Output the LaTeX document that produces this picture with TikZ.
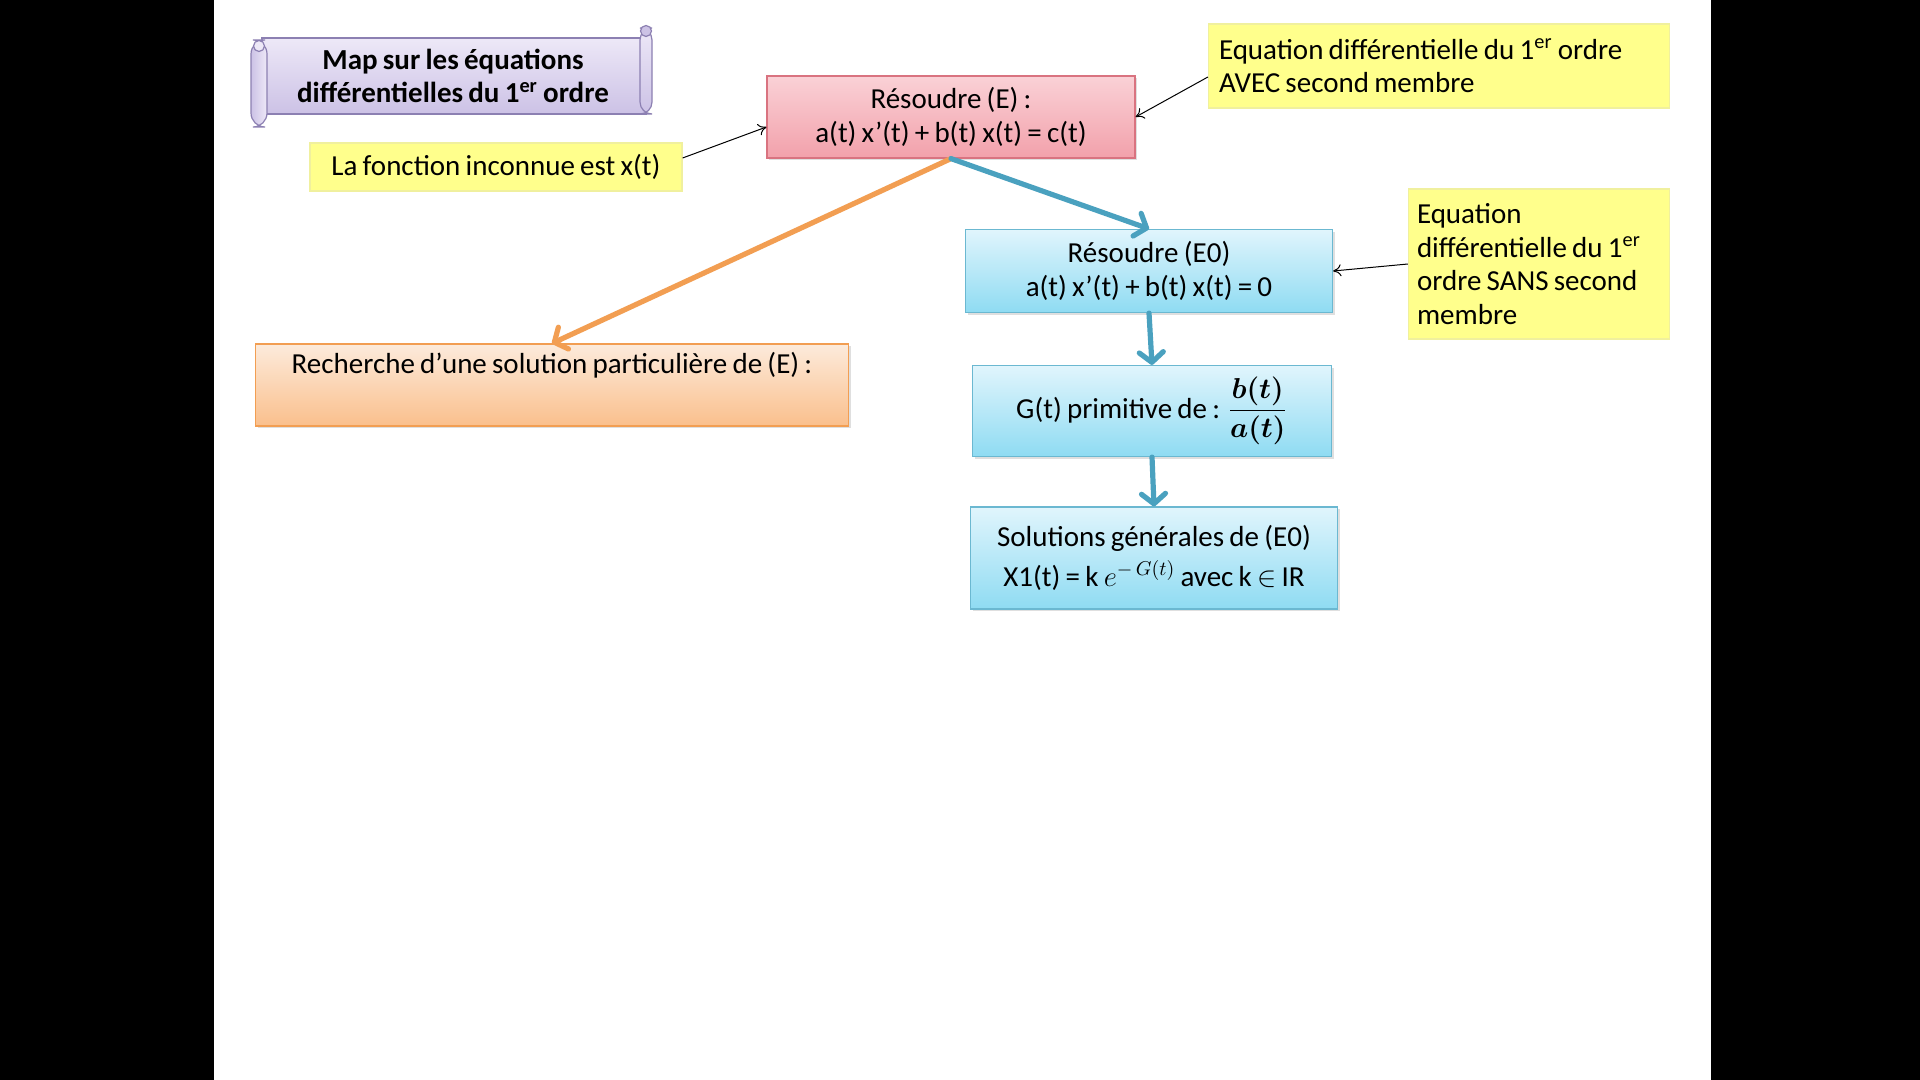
\documentclass[tikz,border=0pt]{standalone}
\usepackage{fontspec}
\usepackage{amsmath}
\usepackage{tikz}
\setmainfont{Carlito}[WordSpace=0.8]
\usetikzlibrary{arrows.meta}
\usetikzlibrary{positioning}
\usetikzlibrary{shadows}
\definecolor{mred}{rgb}{0.85, 0.45, 0.50}
\definecolor{mredtop}{rgb}{0.98, 0.82, 0.84}
\definecolor{mredbot}{rgb}{0.95, 0.63, 0.67}
\definecolor{mcyan}{rgb}{0.42, 0.72, 0.82}
\definecolor{mcyantop}{rgb}{0.88, 0.96, 0.99}
\definecolor{mcyanbot}{rgb}{0.56, 0.86, 0.95}
\definecolor{morange}{rgb}{0.95, 0.62, 0.32}
\definecolor{morangetop}{rgb}{0.99, 0.92, 0.86}
\definecolor{morangebot}{rgb}{0.98, 0.75, 0.55}
\definecolor{myellow}{rgb}{1.0, 1.0, 0.55}
\definecolor{myellowline}{rgb}{0.94, 0.94, 0.62}
\definecolor{mlav}{rgb}{0.55, 0.50, 0.70}
\definecolor{mlavtop}{rgb}{0.93, 0.91, 0.97}
\definecolor{mlavbot}{rgb}{0.80, 0.76, 0.90}
\definecolor{marrow}{rgb}{0.29, 0.63, 0.75}
\tikzset{
  box/.style = {draw, line width=0.6pt, align=center, inner sep=2pt,
    font=\fontsize{14.5}{16.8}\selectfont,
    drop shadow={shadow xshift=1.2pt, shadow yshift=-1.2pt, opacity=0.25}},
  redbox/.style = {box, draw=mred, top color=mredtop, bottom color=mredbot},
  cyanbox/.style = {box, draw=mcyan, top color=mcyantop, bottom color=mcyanbot},
  orangebox/.style = {box, draw=morange, top color=morangetop, bottom color=morangebot},
  note/.style = {draw=myellowline, fill=myellow, line width=0.6pt, inner sep=2pt,
    font=\fontsize{14.5}{16.8}\selectfont},
  thick arrow/.style = {line width=2.6pt, line cap=round,
    -{Straight Barb[length=5pt, width=12pt, round]}},
  thin arrow/.style = {black, line width=0.5pt, -{To[length=4pt, width=6pt]}}
}

\begin{document}
\begin{tikzpicture}[x=0.5pt, y=-0.5pt]
  \useasboundingbox (0, 0) rectangle (1920, 1080);
  \fill [white] (0, 0) rectangle (1920, 1080);
  \fill [black] (0, 0) rectangle (214, 1080);
  \fill [black] (1711, 0) rectangle (1920, 1080);

  % title scroll
  \draw [mlav, line width=0.6pt, top color=mlavtop, bottom color=mlavbot]
    (262, 38) rectangle (646, 114);
  \draw [mlav, line width=0.6pt, top color=mlavtop, bottom color=mlavbot, rounded corners=6]
    (640, 28) rectangle (652, 114);
  \draw [mlav, line width=0.6pt, fill=mlavbot] (646, 31) circle (5.5);
  \draw [mlav, line width=0.6pt, left color=mlavbot, right color=mlavtop, rounded corners=7]
    (251, 40) rectangle (267, 127);
  \draw [mlav, line width=0.6pt, fill=mlavtop] (259, 46) circle (5.5);
  \node (title) at (453, 76) [align=center, font=\fontsize{14.5}{16.8}\selectfont\bfseries]
    {Map sur les équations\\différentielles du 1\textsuperscript{er} ordre};

  \node (eq) at (951, 117) [redbox, minimum width=184pt, minimum height=41pt]
    {Résoudre (E) :\\a(t) x’(t) + b(t) x(t) = c(t)};
  \node (hom) at (1149, 271) [cyanbox, minimum width=183.5pt, minimum height=41.5pt]
    {Résoudre (E0)\\a(t) x’(t) + b(t) x(t) = 0};
  \node (prim) at (1152, 411) [cyanbox, minimum width=179.5pt, minimum height=45.5pt]
    {G(t) primitive de : $\displaystyle\frac{\boldsymbol{b(t)}}{\boldsymbol{a(t)}}$};
  \node (sol) at (1154, 558) [cyanbox, minimum width=183.5pt, minimum height=51pt]
    {Solutions générales de (E0)\\[3pt]X1(t) = k $e^{-\,G(t)}$ avec k $\in$ IR};
  \node (part) at (552, 385) [orangebox, minimum width=296.5pt, minimum height=41pt]
    {Recherche d’une solution particulière de (E) :\\\strut};

  \node (unknown) at (496, 167) [note, minimum width=186pt, minimum height=24pt]
    {La fonction inconnue est x(t)};
  \node (avec) at (1439, 66) [note, minimum width=230.5pt, minimum height=42pt,
    text width=220pt, align=left]
    {\spaceskip=0pt\xspaceskip=0pt
     Equation différentielle du 1\textsuperscript{er} ordre\\AVEC second membre};
  \node (sans) at (1539, 264) [note, minimum width=130.5pt, minimum height=75pt,
    text width=122pt, align=left]
    {\spaceskip=0pt\xspaceskip=0pt
     Equation\\différentielle du 1\textsuperscript{er}\\ordre SANS second\\membre};

  \draw [thick arrow, morange] (eq.south) -- (part.north);
  \foreach \a/\b in {eq.south/hom.north, hom.south/prim.north, prim.south/sol.north} {
    \draw [thick arrow, marrow] (\a) -- (\b);
  }

  \draw [thin arrow] ([yshift=4.5pt]unknown.east) -- ([yshift=-5pt]eq.west);
  \draw [thin arrow] ([yshift=-5.5pt]avec.west) -- (eq.east);
  \draw [thin arrow] (sans.west) -- (hom.east);
\end{tikzpicture}
\end{document}
